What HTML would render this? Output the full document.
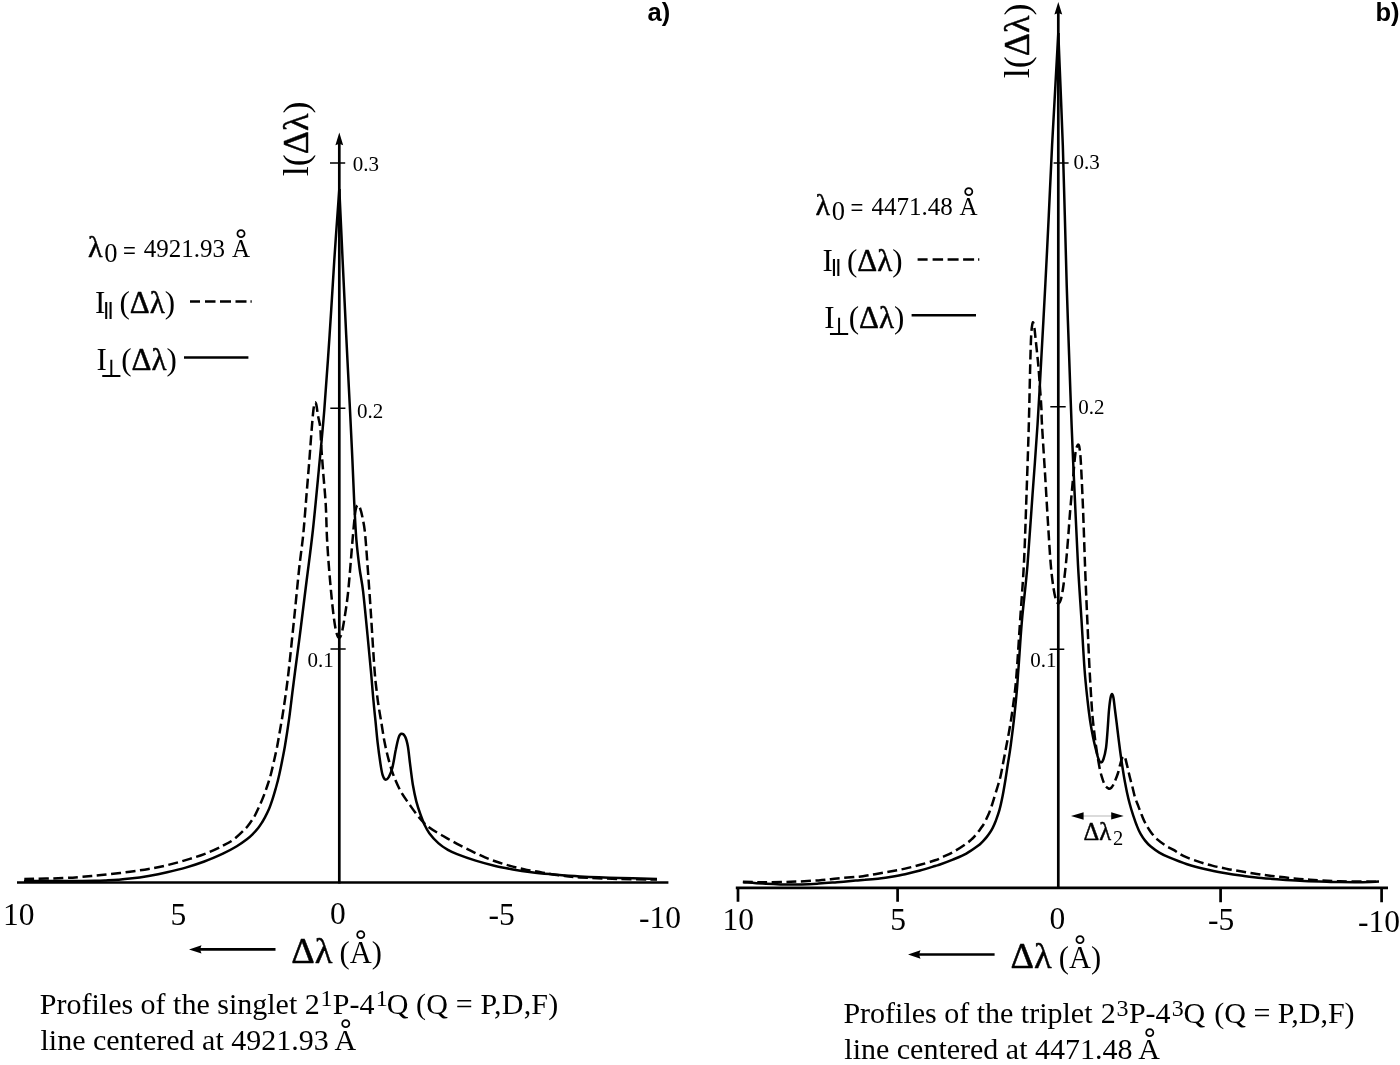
<!DOCTYPE html>
<html lang="en">
<head>
<meta charset="utf-8">
<title>Line profiles</title>
<style>
html,body{margin:0;padding:0;background:#fff;}
body{width:1400px;height:1065px;overflow:hidden;}
svg{display:block;}
text{fill:#000;}
.s{font-family:"Liberation Serif","DejaVu Serif",serif;}
.h{font-family:"Liberation Sans","DejaVu Sans",sans-serif;font-weight:bold;}
.p{font-family:"Liberation Sans","DejaVu Sans",sans-serif;}
.c{fill:none;stroke:#000;stroke-width:2.5;stroke-linejoin:round;stroke-linecap:butt;}
.d{stroke-dasharray:10 4.5;}
.ax{fill:none;stroke:#000;stroke-width:2.7;}
.tk{fill:none;stroke:#000;stroke-width:1.5;}
.g{stroke:#000;stroke-width:0.45;}
</style>
</head>
<body>
<svg width="1400" height="1065" viewBox="0 0 1400 1065">
<rect x="0" y="0" width="1400" height="1065" fill="#fff"/>
<g id="panel-a">
<text class="h" x="647.6" y="21.4" font-size="25.5">a)</text>
<path class="ax" d="M17 882.5H668.4"/>
<path class="ax" d="M339.3 883.5V143"/>
<path d="M339.3 132.5L343.2 145.3L339.3 143.8L335.4 145.3Z" fill="#000"/>
<path class="tk" d="M330 163.1H345.2 M330.3 408.2H345.4 M330.5 648.9H345.7"/>
<text class="s" x="352.8" y="171" font-size="21">0.3</text>
<text class="s" x="357.1" y="417.8" font-size="21">0.2</text>
<text class="s" x="307.5" y="667.4" font-size="21">0.1</text>
<text class="s" font-size="36" transform="translate(307.7 176.2) rotate(-90)">l(<tspan class="g">Δλ</tspan>)</text>
<path class="c" d="M24.0 881.0 C31.7 881.0 58.2 881.0 70.0 881.0 C81.8 881.0 89.0 880.9 95.0 880.8 C101.0 880.7 102.2 880.6 106.0 880.4 C109.8 880.2 114.0 880.0 118.0 879.7 C122.0 879.4 124.9 879.2 130.0 878.6 C135.1 878.0 142.4 877.0 148.6 875.9 C154.8 874.8 160.9 873.6 167.1 872.2 C173.3 870.8 179.5 869.4 185.7 867.6 C191.9 865.8 198.1 863.8 204.3 861.5 C210.5 859.2 217.5 856.1 222.9 853.6 C228.3 851.1 232.8 848.6 236.8 846.2 C240.8 843.8 244.3 841.3 246.9 839.3 C249.5 837.3 250.6 836.2 252.5 834.3 C254.4 832.4 256.6 830.0 258.2 828.0 C259.8 826.0 260.8 824.4 262.0 822.5 C263.2 820.6 264.0 819.0 265.2 816.8 C266.4 814.5 267.8 811.8 269.0 809.0 C270.2 806.2 271.1 803.5 272.3 799.9 C273.5 796.3 274.8 791.7 276.0 787.5 C277.2 783.3 278.3 779.0 279.3 774.5 C280.3 770.0 281.3 765.2 282.2 760.5 C283.1 755.8 283.7 753.3 284.9 746.3 C286.1 739.2 287.9 727.6 289.2 718.2 C290.5 708.8 291.7 697.7 292.7 690.0 C293.7 682.3 293.7 682.0 295.0 672.0 C296.3 662.0 298.6 645.3 300.5 630.0 C302.4 614.7 304.6 596.7 306.7 580.0 C308.8 563.3 310.9 548.3 312.9 530.0 C314.9 511.7 316.9 490.0 318.8 470.0 C320.7 450.0 322.5 432.5 324.3 410.0 C326.1 387.5 327.9 360.0 329.6 335.0 C331.3 310.0 332.7 284.3 334.3 260.0 C335.9 235.7 338.5 200.8 339.3 189.0"/>
<path class="c" d="M339.3 189.0 C339.9 200.8 341.5 235.7 342.6 260.0 C343.8 284.3 345.0 310.0 346.2 335.0 C347.4 360.0 349.0 389.2 350.0 410.0 C351.0 430.8 351.7 444.3 352.4 460.0 C353.1 475.7 353.6 490.7 354.3 504.0 C355.0 517.3 355.5 529.3 356.4 540.0 C357.3 550.7 358.4 559.4 359.5 568.0 C360.6 576.6 361.8 580.2 363.1 591.4 C364.4 602.6 366.2 621.6 367.5 635.0 C368.8 648.4 370.0 661.2 371.0 672.0 C372.0 682.8 372.6 691.8 373.4 700.0 C374.1 708.2 374.8 714.1 375.5 721.1 C376.2 728.1 376.8 735.2 377.6 742.3 C378.4 749.3 379.6 758.0 380.4 763.4 C381.2 768.8 381.7 771.9 382.5 774.6 C383.3 777.3 384.3 779.2 385.4 779.6 C386.5 780.0 387.7 778.8 388.9 776.8 C390.1 774.8 391.2 772.2 392.4 767.6 C393.6 763.0 394.8 754.3 395.9 749.3 C396.9 744.2 397.8 739.9 398.7 737.3 C399.6 734.7 400.4 733.9 401.5 733.8 C402.6 733.7 404.0 734.5 405.1 736.6 C406.2 738.7 407.1 742.0 407.9 746.5 C408.7 751.0 409.2 757.1 410.0 763.4 C410.8 769.7 411.8 778.2 412.8 784.5 C413.9 790.8 415.1 796.5 416.3 801.4 C417.6 806.3 418.9 810.1 420.3 814.0 C421.7 817.9 423.1 821.7 424.6 824.9 C426.1 828.1 427.0 830.1 429.3 833.2 C431.6 836.3 435.5 840.6 438.6 843.4 C441.7 846.2 444.8 848.1 447.9 849.9 C451.0 851.7 452.5 852.3 457.1 854.1 C461.7 855.9 469.5 858.7 475.7 860.6 C481.9 862.5 488.1 864.2 494.3 865.7 C500.5 867.2 506.7 868.3 512.9 869.4 C519.1 870.5 525.2 871.4 531.4 872.2 C537.6 873.0 541.9 873.4 550.0 874.1 C558.1 874.8 568.3 875.8 580.0 876.4 C591.7 877.0 607.2 877.6 620.0 878.0 C632.8 878.4 650.8 878.8 657.0 879.0"/>
<path class="c d" d="M24.3 879.0 C30.7 878.9 51.7 878.6 62.9 878.1 C74.1 877.6 83.6 876.6 91.4 876.0 C99.2 875.4 103.6 874.9 110.0 874.2 C116.4 873.5 123.6 872.6 130.0 871.7 C136.4 870.8 142.4 870.1 148.6 869.0 C154.8 867.9 160.9 866.7 167.1 865.2 C173.3 863.7 179.5 862.0 185.7 860.1 C191.9 858.2 198.1 856.5 204.3 854.1 C210.5 851.7 218.0 848.2 222.9 845.7 C227.8 843.2 230.3 842.0 234.0 839.2 C237.7 836.4 242.4 831.7 245.1 829.0 C247.8 826.3 248.4 825.1 250.0 823.0 C251.6 820.9 252.9 819.2 254.4 816.5 C255.9 813.8 257.4 810.5 259.0 807.0 C260.6 803.5 262.4 799.2 263.8 795.6 C265.2 792.0 266.2 789.0 267.4 785.5 C268.6 782.0 269.7 778.6 270.8 774.5 C271.9 770.4 272.9 765.7 274.0 761.0 C275.1 756.3 276.2 751.1 277.2 746.3 C278.1 741.5 278.9 736.7 279.7 732.0 C280.5 727.3 281.3 722.9 282.1 718.2 C282.9 713.5 283.6 708.7 284.3 704.0 C285.0 699.3 285.5 696.0 286.3 690.0 C287.1 684.0 287.7 679.7 289.0 668.0 C290.3 656.3 292.3 636.3 294.0 620.0 C295.7 603.7 297.5 584.2 299.0 570.0 C300.5 555.8 301.9 547.5 303.2 535.0 C304.4 522.5 305.5 507.3 306.5 495.0 C307.5 482.7 308.5 471.3 309.3 461.0 C310.1 450.7 310.7 441.3 311.4 433.0 C312.1 424.7 312.7 416.1 313.3 411.0 C313.9 405.9 314.3 403.6 314.8 402.6 C315.3 401.6 315.9 402.9 316.4 405.0 C316.9 407.1 317.3 411.5 317.9 415.2 C318.5 418.9 319.6 421.7 320.2 427.0 C320.8 432.3 320.8 439.8 321.3 447.0 C321.8 454.2 322.3 460.5 323.0 470.0 C323.7 479.5 325.0 492.3 325.7 504.0 C326.4 515.7 326.4 527.3 327.1 540.0 C327.8 552.7 328.9 567.5 330.0 580.0 C331.1 592.5 332.4 606.2 333.5 615.0 C334.6 623.8 335.5 629.2 336.5 633.0 C337.5 636.8 338.4 638.2 339.3 638.0 C340.2 637.8 341.1 635.8 342.0 632.0 C342.9 628.2 344.0 621.3 345.0 615.0 C346.0 608.7 347.0 602.3 347.9 594.0 C348.8 585.7 349.7 574.7 350.5 565.0 C351.3 555.3 352.1 544.8 352.9 536.0 C353.7 527.2 354.5 517.2 355.3 512.0 C356.1 506.8 356.7 505.7 357.5 505.0 C358.3 504.3 359.1 505.8 360.0 508.0 C360.9 510.2 361.8 513.8 362.6 518.0 C363.4 522.2 364.2 525.2 365.0 533.0 C365.8 540.8 366.5 551.3 367.5 565.0 C368.5 578.7 369.9 597.8 371.0 615.0 C372.1 632.2 373.5 655.8 374.4 668.0 C375.3 680.2 375.6 682.0 376.3 688.0 C377.0 694.0 377.5 698.7 378.3 704.2 C379.1 709.7 380.1 714.8 381.1 721.1 C382.2 727.5 383.3 735.7 384.6 742.3 C385.9 748.9 387.4 755.0 388.9 760.6 C390.4 766.2 391.8 771.0 393.8 776.1 C395.8 781.2 398.2 786.8 400.8 791.5 C403.4 796.2 406.2 799.8 409.3 804.2 C412.4 808.6 416.2 814.1 419.5 818.0 C422.8 821.9 425.4 824.6 429.3 827.6 C433.2 830.6 438.6 833.3 443.2 836.0 C447.8 838.7 452.5 841.4 457.1 843.9 C461.8 846.4 466.5 848.6 471.1 850.9 C475.8 853.1 480.4 855.5 485.0 857.4 C489.6 859.3 494.2 861.0 498.9 862.5 C503.5 864.0 508.2 865.4 512.9 866.6 C517.5 867.8 522.2 869.0 526.8 869.9 C531.4 870.8 536.8 871.5 540.7 872.2 C544.6 872.9 546.0 873.5 550.0 874.1 C554.0 874.7 560.0 875.5 565.0 876.0 C570.0 876.5 570.8 876.9 580.0 877.4 C589.2 877.9 607.2 878.6 620.0 879.0 C632.8 879.4 650.8 879.5 657.0 879.6"/>
<text class="s" x="3" y="925" font-size="31.5">10</text>
<text class="s" x="170.6" y="925" font-size="31.5">5</text>
<text class="s" x="330" y="923.6" font-size="31.5">0</text>
<text class="s" x="488.6" y="924.6" font-size="31.5">-5</text>
<text class="s" x="639" y="927.6" font-size="31.5">-10</text>
<path class="ax" d="M199 949.4H275.5"/>
<path d="M189 949.4L201.5 945.2L200 949.4L201.5 953.6Z" fill="#000"/>
<text class="s g" x="291.3" y="962.7" font-size="36.5">Δλ</text>
<text class="s" x="339.5" y="962.7" font-size="30.5">(A<tspan font-size="45" dx="-11.0" dy="-0.7">&#x030A;</tspan><tspan dx="11.0" dy="0.7">)</tspan></text>
<text class="s" x="39.8" y="1013.8" font-size="30">Profiles of the singlet <tspan dx="0.0">2</tspan><tspan font-size="24" dx="0.7" dy="-7.7">1</tspan><tspan dx="0.4" dy="7.7">P-4</tspan><tspan font-size="24" dx="1.2" dy="-7.7">1</tspan><tspan dx="-1.0" dy="7.7">Q</tspan><tspan dx="0.0" letter-spacing="0.18"> (Q = P,D,F)</tspan></text>
<text class="s" x="40.5" y="1050.0" font-size="30">line centered at 4921.93 A<tspan font-size="45" dx="-10.4" dy="0.9">&#x030A;</tspan></text>
<g transform="translate(0.0 0.0)">
<text class="s g" x="88" y="257.3" font-size="30">λ</text>
<text class="s" x="104.2" y="261.9" font-size="26.5">0</text>
<text class="p" x="123" y="257.6" font-size="22">=</text>
<text class="s" x="143.8" y="257.3" font-size="25">4921.93</text>
<text class="s" x="232" y="257.3" font-size="25">A<tspan font-size="45" dx="-9.0" dy="3.5">&#x030A;</tspan></text>
<text class="s" x="95" y="313.1" font-size="31">I</text>
<text class="s" font-size="25" transform="translate(102.3 318.5) scale(1.75 1)">‖</text>
<text class="s" x="119.4" y="313.1" font-size="31">(<tspan class="g">Δλ</tspan>)</text>
<path class="c" d="M190 301.6H200 M205 301.6H215.5 M220 301.6H231 M235.5 301.6H246.5 M250.5 301.6H251.7"/>
<text class="s" x="96.6" y="369.8" font-size="31">I</text>
<text class="s" x="99.6" y="377.2" font-size="25">⊥</text>
<text class="s" x="121.2" y="369.8" font-size="31">(<tspan class="g">Δλ</tspan>)</text>
<path class="c" d="M184 357.4H248.4"/>
</g>
</g>
<g id="panel-b">
<text class="h" x="1375.5" y="21.1" font-size="25.5">b)</text>
<path class="ax" d="M735.8 887.8H1388"/>
<path class="ax" stroke-width="2.4" d="M738 887V901.8 M897.6 887V901.8 M1220.6 887V902.2 M1381.6 887V902.2"/>
<path class="ax" d="M1058.3 888.5V12.5"/>
<path d="M1058.3 2L1062.2 14.6L1058.3 13L1054.4 14.6Z" fill="#000"/>
<path class="tk" d="M1053.6 163.1H1068.6 M1050.3 406.7H1065.7 M1049.7 649.3H1064.3"/>
<text class="s" x="1073.5" y="169.3" font-size="21">0.3</text>
<text class="s" x="1078.2" y="414.3" font-size="21">0.2</text>
<text class="s" x="1030.2" y="666.7" font-size="21">0.1</text>
<text class="s" font-size="36" transform="translate(1029.1 78.2) rotate(-90)">l(<tspan class="g">Δλ</tspan>)</text>
<path class="c" d="M742.9 882.2 C746.2 882.4 754.9 883.2 762.9 883.6 C770.9 884.0 781.4 884.6 790.7 884.6 C800.0 884.6 810.9 884.0 818.6 883.6 C826.3 883.2 830.9 882.7 837.1 882.2 C843.3 881.7 851.1 881.0 855.7 880.6 C860.4 880.2 861.8 880.0 865.0 879.8 C868.2 879.5 870.8 879.6 875.0 879.1 C879.2 878.6 885.1 877.7 890.1 876.9 C895.1 876.1 900.1 875.3 905.1 874.2 C910.1 873.1 915.1 871.9 920.1 870.5 C925.1 869.1 931.8 867.0 935.1 866.0 C938.4 865.0 937.0 865.6 940.0 864.5 C943.0 863.4 948.4 861.4 952.8 859.6 C957.2 857.8 962.2 855.9 966.3 853.6 C970.4 851.4 974.9 848.1 977.6 846.1 C980.3 844.1 980.9 843.3 982.4 841.8 C983.9 840.3 985.4 838.6 986.6 837.1 C987.8 835.6 988.8 834.3 989.8 832.8 C990.8 831.3 991.6 830.0 992.6 828.1 C993.6 826.2 994.5 824.3 995.6 821.3 C996.7 818.3 998.2 814.3 999.4 810.1 C1000.6 805.9 1001.6 801.0 1002.6 796.0 C1003.6 791.0 1004.5 785.5 1005.4 780.0 C1006.3 774.5 1007.1 768.6 1008.0 763.0 C1008.9 757.4 1009.6 753.8 1010.6 746.3 C1011.6 738.8 1013.1 727.6 1014.1 718.2 C1015.1 708.8 1016.2 698.4 1016.9 690.0 C1017.6 681.6 1017.6 679.7 1018.5 668.0 C1019.4 656.3 1020.5 637.2 1022.0 620.0 C1023.5 602.8 1025.8 585.8 1027.5 565.0 C1029.2 544.2 1030.8 518.3 1032.5 495.0 C1034.2 471.7 1036.0 448.3 1037.5 425.0 C1039.0 401.7 1040.2 378.3 1041.5 355.0 C1042.8 331.7 1044.1 308.3 1045.3 285.0 C1046.5 261.7 1047.7 238.3 1048.8 215.0 C1049.9 191.7 1051.0 166.0 1052.1 145.0 C1053.2 124.0 1054.2 107.7 1055.2 89.0 C1056.2 70.3 1057.8 42.3 1058.3 33.0"/>
<path class="c" d="M1058.3 33.0 C1058.7 42.3 1059.8 70.3 1060.6 89.0 C1061.3 107.7 1062.1 124.0 1062.8 145.0 C1063.5 166.0 1064.1 191.7 1064.8 215.0 C1065.5 238.3 1066.0 261.7 1066.7 285.0 C1067.4 308.3 1068.3 331.7 1069.1 355.0 C1069.9 378.3 1070.7 401.7 1071.6 425.0 C1072.5 448.3 1073.6 471.7 1074.7 495.0 C1075.8 518.3 1076.9 544.2 1078.0 565.0 C1079.1 585.8 1080.4 602.5 1081.5 620.0 C1082.6 637.5 1083.6 656.7 1084.6 670.0 C1085.6 683.3 1086.6 691.7 1087.5 700.0 C1088.4 708.3 1089.1 713.8 1090.0 720.0 C1090.9 726.2 1092.0 732.0 1093.0 737.0 C1094.0 742.0 1095.1 746.3 1096.0 750.0 C1096.9 753.7 1097.7 756.9 1098.5 759.0 C1099.3 761.1 1100.2 762.4 1101.0 762.4 C1101.8 762.4 1102.7 761.4 1103.5 759.0 C1104.3 756.6 1105.3 752.8 1106.0 748.0 C1106.7 743.2 1107.1 736.3 1107.6 730.0 C1108.1 723.7 1108.5 715.3 1109.0 710.0 C1109.5 704.7 1110.0 700.7 1110.5 698.0 C1111.0 695.3 1111.5 694.0 1112.0 694.0 C1112.5 694.0 1113.0 695.3 1113.5 698.0 C1114.0 700.7 1114.3 704.7 1115.0 710.0 C1115.7 715.3 1116.7 723.3 1117.5 730.0 C1118.3 736.7 1119.1 743.3 1120.0 750.0 C1120.9 756.7 1122.1 764.8 1122.9 770.0 C1123.7 775.2 1124.1 777.5 1124.8 781.3 C1125.5 785.0 1126.2 788.8 1127.0 792.5 C1127.8 796.2 1128.7 800.0 1129.7 803.8 C1130.7 807.6 1131.9 811.5 1133.1 815.1 C1134.3 818.7 1135.5 822.5 1136.8 825.6 C1138.0 828.7 1139.2 831.4 1140.6 833.9 C1142.0 836.4 1143.4 838.5 1145.1 840.6 C1146.8 842.7 1148.1 844.3 1150.5 846.3 C1152.9 848.3 1156.3 850.8 1159.3 852.6 C1162.3 854.4 1164.0 855.3 1168.6 857.2 C1173.2 859.1 1180.9 862.2 1187.1 864.2 C1193.3 866.2 1199.5 867.8 1205.7 869.3 C1211.9 870.8 1218.1 871.9 1224.3 873.0 C1230.5 874.1 1236.7 875.0 1242.9 875.8 C1249.1 876.6 1255.2 877.4 1261.4 878.0 C1267.6 878.6 1273.6 878.9 1280.0 879.4 C1286.4 879.9 1293.3 880.4 1300.0 880.7 C1306.7 881.1 1313.3 881.3 1320.0 881.5 C1326.7 881.7 1333.3 882.0 1340.0 882.1 C1346.7 882.2 1353.5 882.3 1360.0 882.2 C1366.5 882.1 1375.8 881.7 1379.0 881.6"/>
<path class="c d" d="M742.9 881.8 C746.2 881.9 754.9 882.2 762.9 882.2 C770.9 882.2 781.4 882.1 790.7 881.8 C800.0 881.5 810.9 880.9 818.6 880.4 C826.3 879.9 830.9 879.1 837.1 878.5 C843.3 877.9 851.4 877.3 855.7 876.9 C860.0 876.5 859.8 876.7 863.0 876.2 C866.2 875.8 870.5 875.0 875.0 874.2 C879.5 873.4 885.1 872.5 890.1 871.6 C895.1 870.7 900.1 869.7 905.1 868.6 C910.1 867.5 915.1 866.2 920.1 864.8 C925.1 863.4 931.4 861.6 935.1 860.3 C938.8 859.0 939.1 858.7 942.3 857.2 C945.5 855.7 950.2 853.8 954.3 851.4 C958.4 849.0 964.0 845.2 967.0 843.1 C970.0 841.0 970.7 840.2 972.5 838.5 C974.3 836.8 976.2 834.4 977.6 832.6 C979.0 830.9 980.0 829.4 981.0 828.0 C982.0 826.6 982.4 826.4 983.6 824.3 C984.8 822.2 986.7 818.4 988.1 815.3 C989.5 812.2 990.7 808.8 991.8 805.5 C992.9 802.2 993.8 799.0 994.8 795.8 C995.8 792.5 996.8 789.3 997.8 786.0 C998.8 782.7 999.6 780.2 1000.6 776.0 C1001.6 771.8 1002.5 766.0 1003.5 761.0 C1004.5 756.0 1005.4 751.1 1006.3 746.3 C1007.2 741.5 1008.2 736.7 1009.0 732.0 C1009.8 727.3 1010.6 722.9 1011.3 718.2 C1012.0 713.5 1012.7 708.7 1013.3 704.0 C1013.9 699.3 1014.5 696.0 1015.1 690.0 C1015.7 684.0 1016.1 680.5 1017.0 668.0 C1017.9 655.5 1019.3 632.7 1020.5 615.0 C1021.7 597.3 1023.0 582.0 1024.0 562.0 C1025.0 542.0 1025.7 517.8 1026.5 495.0 C1027.3 472.2 1028.2 446.5 1028.8 425.0 C1029.4 403.5 1029.8 381.0 1030.2 366.0 C1030.6 351.0 1030.8 342.2 1031.2 335.0 C1031.6 327.8 1032.3 323.7 1032.8 322.5 C1033.3 321.3 1033.9 325.1 1034.4 328.0 C1034.9 330.9 1035.2 335.5 1035.7 340.0 C1036.2 344.5 1036.8 350.2 1037.3 355.0 C1037.8 359.8 1038.1 363.1 1038.6 368.6 C1039.0 374.1 1039.5 381.3 1040.0 388.0 C1040.5 394.7 1041.1 402.4 1041.4 408.6 C1041.7 414.8 1041.4 414.8 1042.0 425.0 C1042.6 435.2 1043.8 454.2 1044.8 470.0 C1045.8 485.8 1046.8 504.2 1047.8 520.0 C1048.8 535.8 1049.8 553.7 1050.8 565.0 C1051.8 576.3 1052.6 582.2 1053.5 588.0 C1054.4 593.8 1055.2 597.4 1056.0 600.0 C1056.8 602.6 1057.8 603.7 1058.6 603.5 C1059.4 603.3 1060.2 602.1 1061.0 599.0 C1061.8 595.9 1062.7 591.0 1063.5 585.0 C1064.3 579.0 1065.2 571.0 1066.0 563.0 C1066.8 555.0 1067.5 545.4 1068.2 537.0 C1068.9 528.6 1069.2 522.4 1070.0 512.9 C1070.8 503.4 1072.0 489.6 1072.9 480.0 C1073.8 470.4 1074.5 460.6 1075.2 455.0 C1075.9 449.4 1076.4 448.2 1077.0 446.5 C1077.6 444.8 1078.3 444.1 1078.8 445.0 C1079.3 445.9 1079.7 449.0 1080.0 452.0 C1080.3 455.0 1080.4 454.1 1080.9 463.0 C1081.4 471.9 1082.2 488.7 1082.9 505.7 C1083.6 522.7 1084.3 546.0 1085.0 565.0 C1085.7 584.0 1086.5 602.5 1087.3 620.0 C1088.1 637.5 1088.8 655.0 1089.6 670.0 C1090.4 685.0 1091.3 700.0 1092.0 710.0 C1092.7 720.0 1093.3 724.0 1094.0 730.0 C1094.7 736.0 1095.3 741.2 1096.0 746.0 C1096.7 750.8 1097.3 755.0 1098.0 759.0 C1098.7 763.0 1099.3 766.8 1100.0 770.0 C1100.7 773.2 1101.5 775.8 1102.3 778.3 C1103.1 780.8 1104.0 783.6 1105.0 785.3 C1106.0 787.0 1107.5 788.1 1108.5 788.5 C1109.5 788.9 1110.5 788.4 1111.3 787.7 C1112.1 787.0 1112.8 785.8 1113.5 784.5 C1114.2 783.2 1114.7 782.0 1115.4 780.1 C1116.2 778.2 1117.2 775.5 1118.0 773.0 C1118.8 770.5 1119.3 767.4 1120.0 765.0 C1120.7 762.6 1121.3 760.0 1122.0 758.5 C1122.7 757.0 1123.4 755.9 1124.0 756.0 C1124.6 756.1 1125.0 757.5 1125.5 759.0 C1126.0 760.5 1126.5 763.2 1127.0 765.0 C1127.5 766.8 1127.7 767.8 1128.2 770.0 C1128.7 772.2 1129.4 775.5 1130.1 778.3 C1130.8 781.0 1131.5 783.4 1132.3 786.5 C1133.1 789.6 1133.9 793.7 1134.9 797.0 C1135.9 800.3 1137.2 803.1 1138.3 806.1 C1139.4 809.1 1140.5 812.1 1141.7 815.1 C1143.0 818.1 1144.2 821.2 1145.8 824.1 C1147.4 827.0 1149.1 829.8 1151.1 832.4 C1153.1 835.0 1155.4 837.6 1157.9 839.9 C1160.4 842.1 1163.5 844.2 1166.1 845.9 C1168.7 847.6 1170.7 848.2 1173.6 849.9 C1176.5 851.6 1179.4 854.0 1183.4 855.9 C1187.4 857.8 1193.0 859.8 1197.8 861.4 C1202.6 863.0 1207.3 864.4 1212.2 865.6 C1217.1 866.9 1222.1 867.9 1227.1 868.9 C1232.0 869.9 1237.0 870.7 1241.9 871.5 C1246.9 872.3 1251.8 873.2 1256.8 873.9 C1261.8 874.6 1266.1 875.2 1271.6 875.9 C1277.1 876.6 1283.6 877.4 1290.0 878.0 C1296.4 878.6 1301.7 879.2 1310.0 879.7 C1318.3 880.2 1328.5 881.0 1340.0 881.3 C1351.5 881.6 1372.5 881.6 1379.0 881.7"/>
<path d="M1083 816H1112" fill="none" stroke="#999" stroke-width="0.7"/>
<path d="M1071 816L1083.6 812.3V819.7Z M1123.7 815.9L1111.2 812.2V819.6Z" fill="#000"/>
<text class="s" x="1083.6" y="839.8" font-size="24.5"><tspan class="g">Δλ</tspan><tspan font-size="20.5" dy="5.2" dx="1.8">2</tspan></text>
<text class="s" x="722.4" y="930.2" font-size="31.5">10</text>
<text class="s" x="890.2" y="930.2" font-size="31.5">5</text>
<text class="s" x="1049.4" y="928.5" font-size="31.5">0</text>
<text class="s" x="1208" y="929.6" font-size="31.5">-5</text>
<text class="s" x="1358" y="931.6" font-size="31.5">-10</text>
<path class="ax" d="M918 954.5H994.6"/>
<path d="M908 954.5L920.5 950.3L919 954.5L920.5 958.7Z" fill="#000"/>
<text class="s g" x="1010.6" y="967.6" font-size="36.5">Δλ</text>
<text class="s" x="1058.8" y="967.6" font-size="30.5">(A<tspan font-size="45" dx="-11.0" dy="-0.7">&#x030A;</tspan><tspan dx="11.0" dy="0.7">)</tspan></text>
<text class="s" x="843.4" y="1023.2" font-size="30">Profiles of the triplet <tspan dx="0.8">2</tspan><tspan font-size="24" dx="0.7" dy="-7.7">3</tspan><tspan dx="0.4" dy="7.7">P-4</tspan><tspan font-size="24" dx="1.2" dy="-7.7">3</tspan><tspan dx="-0.2" dy="7.7">Q</tspan><tspan dx="1.5" letter-spacing="0.00"> (Q = P,D,F)</tspan></text>
<text class="s" x="844.3" y="1059.2" font-size="30">line centered at 4471.48 A<tspan font-size="45" dx="-10.4" dy="0.9">&#x030A;</tspan></text>
<g transform="translate(727.6 -42.1)">
<text class="s g" x="88" y="257.3" font-size="30">λ</text>
<text class="s" x="104.2" y="261.9" font-size="26.5">0</text>
<text class="p" x="123" y="257.6" font-size="22">=</text>
<text class="s" x="143.8" y="257.3" font-size="25">4471.48</text>
<text class="s" x="232" y="257.3" font-size="25">A<tspan font-size="45" dx="-9.0" dy="3.5">&#x030A;</tspan></text>
<text class="s" x="95" y="313.1" font-size="31">I</text>
<text class="s" font-size="25" transform="translate(102.3 318.5) scale(1.75 1)">‖</text>
<text class="s" x="119.4" y="313.1" font-size="31">(<tspan class="g">Δλ</tspan>)</text>
<path class="c" d="M190 301.6H200 M205 301.6H215.5 M220 301.6H231 M235.5 301.6H246.5 M250.5 301.6H251.7"/>
<text class="s" x="96.6" y="369.8" font-size="31">I</text>
<text class="s" x="99.6" y="377.2" font-size="25">⊥</text>
<text class="s" x="121.2" y="369.8" font-size="31">(<tspan class="g">Δλ</tspan>)</text>
<path class="c" d="M184 357.4H248.4"/>
</g>
</g>
</svg>
</body>
</html>
